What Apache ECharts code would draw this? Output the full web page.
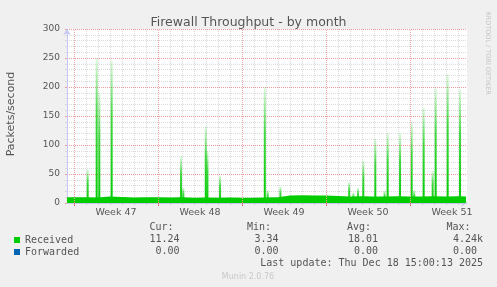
<!DOCTYPE html>
<html><head><meta charset="utf-8">
<script src="https://cdn.jsdelivr.net/npm/echarts@6/dist/echarts.min.js"></script>
<style>html,body{margin:0;padding:0;background:#f0f0f0}#c{width:497px;height:287px}</style>
</head><body><div id="c"></div>
<script>
// ---- data (x in days since start of week 47) ----
const chartTitle = 'Firewall Throughput - by month';
const yAxisTitle = 'Packets/second';
const dayLines = [1,2,3,4,5,6,8,9,10,11,12,13,15,16,17,18,19,20,22,23,24,25,26,27,29,30,31,32];
const weekStarts = [0,7,14,21,28];
const weekLabelPos = [3.5,10.5,17.5,24.5,31.5];
const weekLabels = ['Week 47','Week 48','Week 49','Week 50','Week 51'];

const baseDays   = [-0.58,0,1,2,3,4,5,6,7,8,9,10,11,12,13,14,15,16,17,18,19,20,21,22,23,24,25,26,27,28,29,30,31,32,32.67];
const baseValues = [10,10,9.5,11,10.5,9.5,10,10,9.5,10,9,9.5,9,9.5,9,9,9.5,10,13,13.5,13,13,12,11,11.5,11,11,11.5,11,11,11.5,11,11.5,11,11];

const spikeDays   = [1.14,1.89,2.11,3.14,8.92,9.11,10.98,11.12,12.17,15.9,16.14,17.2,22.93,23.28,23.67,24.11,25.11,25.88,26.14,27.17,28.14,28.35,29.14,29.89,30.14,31.14,32.17];
const spikeValues = [58,250,190,246,80,26,132,90,47,200,22,28,36,18,26,73,111,21,121,120,140,22,165,55,198,222,196];

const seriesNames = ['Received','Forwarded'];
const curValues = ['11.24','0.00'];
const minValues = ['3.34','0.00'];
const avgValues = ['18.01','0.00'];
const maxValues = ['4.24k','0.00 '];
const lastUpdate = 'Last update: Thu Dec 18 15:00:13 2025';
const version = 'Munin 2.0.76';
const sideText = 'RRDTOOL / TOBI OETIKER';

// ---- chart ----
const X_MIN = -0.5833, X_MAX = 32.75;
const gridCol = '#dadada', majorCol = '#ec9a9a', vMajorCol = '#eea4a4', axisCol = '#c6c8f2', txt = '#555';
const mono = 'DejaVu Sans Mono', sans = 'DejaVu Sans';

const chart = echarts.init(document.getElementById('c'));
const tableTexts = [];
function t(x, y, s, align, extra) {
  tableTexts.push(Object.assign({type:'text', x:x, y:y, style:{text:s, fill:txt, font:'10px "'+mono+'"', textAlign:align, textVerticalAlign:'middle'}}, extra||{}));
}
t(173.5, 227.5, 'Cur:', 'right');
t(271, 227.5, 'Min:', 'right');
t(371, 227.5, 'Avg:', 'right');
t(470.5, 227.5, 'Max:', 'right');
for (let i = 0; i < 2; i++) {
  const y = 239.7 + i * 12;
  t(179.5, y, curValues[i], 'right');
  t(278.5, y, minValues[i], 'right');
  t(378, y, avgValues[i], 'right');
  t(483, y, maxValues[i], 'right');
}
t(483, 263.5, lastUpdate, 'right');

const option = {
  backgroundColor: '#f0f0f0',
  animation: false,
  title: {text: chartTitle, left: 'center', top: 11, textStyle: {fontFamily: sans, fontSize: 12.5, fontWeight: 'normal', color: txt}},
  grid: {left: 67, right: 30, top: 29, bottom: 84, show: true, backgroundColor: '#ffffff', borderWidth: 0},
  legend: {data: seriesNames, orient: 'vertical', left: 14, top: 234, icon: 'rect', itemWidth: 6, itemHeight: 6, itemGap: 0, padding: 0, selectedMode: false,
           textStyle: {fontFamily: mono, fontSize: 10, color: txt, lineHeight: 12}},
  xAxis: [
    {type: 'value', min: X_MIN, max: X_MAX,
     axisLine: {show: true, onZero: false, lineStyle: {color: axisCol}, symbol: ['none', 'arrow'], symbolSize: [6, 6]},
     axisTick: {show: true, customValues: dayLines, length: 2, lineStyle: {color: '#c8c8c8'}},
     splitLine: {show: true, lineStyle: {color: gridCol, type: [1, 1]}},
     axisLabel: {show: false}},
    {type: 'value', min: X_MIN, max: X_MAX, position: 'bottom',
     axisLine: {show: false, onZero: false},
     axisTick: {show: true, customValues: weekStarts, length: 3, lineStyle: {color: '#e07070'}},
     splitLine: {show: false},
     axisLabel: {show: true, customValues: weekLabelPos, margin: 5, fontFamily: sans, fontSize: 9.5, color: txt,
       formatter: function (v) { let k = 0; for (let i = 0; i < weekLabelPos.length; i++) if (Math.abs(weekLabelPos[i] - v) < Math.abs(weekLabelPos[k] - v)) k = i; return weekLabels[k]; }}}
  ],
  yAxis: {type: 'value', min: 0, max: 300, interval: 50,
    axisLine: {show: true, onZero: false, lineStyle: {color: axisCol}, symbol: ['none', 'arrow'], symbolSize: [6, 6]},
    axisTick: {show: true, length: 2, lineStyle: {color: majorCol}},
    minorTick: {show: true, splitNumber: 5, length: 2, lineStyle: {color: gridCol}},
    splitLine: {show: true, lineStyle: {color: majorCol, type: [1, 1]}},
    minorSplitLine: {show: true, lineStyle: {color: gridCol, type: [1, 1]}},
    axisLabel: {fontFamily: sans, fontSize: 9, color: txt, margin: 7}},
  series: [
    {name: 'Forwarded', type: 'line', xAxisIndex: 0, color: '#0066b3', symbol: 'none', z: 1, data: [],
     markLine: {silent: true, symbol: ['none', 'none'], label: {show: false}, animation: false,
       lineStyle: {color: vMajorCol, type: [1, 1], width: 1},
       data: weekStarts.map(w => ({xAxis: w}))}},
    {name: 'Received', type: 'line', xAxisIndex: 0, step: 'end', symbol: 'none', color: '#00cc00', z: 3,
     lineStyle: {width: 0}, areaStyle: {color: '#00cc00', opacity: 1},
     data: baseDays.map((d, i) => [d, baseValues[i]])},
    {name: 'Received', type: 'bar', xAxisIndex: 0, barWidth: 2, color: '#00cc00', z: 3,
     itemStyle: {color: new echarts.graphic.LinearGradient(0, 0, 0, 1, [
       {offset: 0, color: 'rgba(0,204,0,0.12)'}, {offset: 0.4, color: 'rgba(0,204,0,0.75)'}, {offset: 1, color: '#00cc00'}])},
     data: spikeDays.map((d, i) => [d, spikeValues[i]])}
  ],
  graphic: [
    {type: 'text', x: 11, y: 114, rotation: Math.PI / 2, style: {text: yAxisTitle, fill: txt, font: '11px "' + sans + '"', textAlign: 'center', textVerticalAlign: 'middle'}},
    {type: 'text', x: 487.5, y: 53, rotation: -Math.PI / 2, style: {text: sideText, fill: '#c4c4c4', font: '6.5px "' + sans + '"', textAlign: 'center', textVerticalAlign: 'middle'}},
    {type: 'text', x: 248, y: 276.5, style: {text: version, fill: '#c8c8c8', font: '8px "' + sans + '"', textAlign: 'center', textVerticalAlign: 'middle'}}
  ].concat(tableTexts)
};
chart.setOption(option);
</script></body></html>
